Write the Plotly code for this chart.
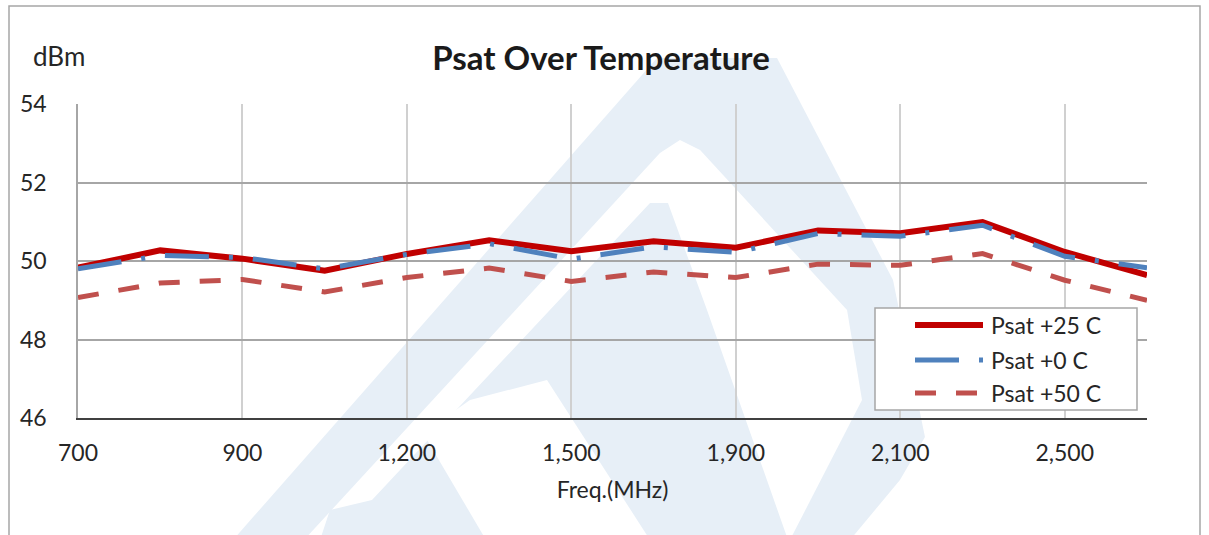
import plotly.graph_objects as go

# ---- data ----
freq_labels = ["700", "800", "900", "1,000", "1,200", "1,300", "1,500",
               "1,700", "1,900", "2,000", "2,100", "2,300", "2,500", "2,700"]
shown_ticks = ["700", "900", "1,200", "1,500", "1,900", "2,100", "2,500"]
psat_25 = [49.83, 50.27, 50.06, 49.75, 50.18, 50.53, 50.25, 50.50, 50.34, 50.78, 50.71, 50.99, 50.23, 49.64]
psat_0 = [49.80, 50.14, 50.09, 49.80, 50.17, 50.44, 50.05, 50.36, 50.22, 50.70, 50.63, 50.91, 50.12, 49.83]
psat_50 = [49.07, 49.44, 49.53, 49.21, 49.58, 49.82, 49.48, 49.72, 49.58, 49.92, 49.89, 50.19, 49.51, 49.00]
y_ticks = [46, 48, 50, 52, 54]
series_names = ["Psat +25 C", "Psat +0 C", "Psat +50 C"]

FONT = "Lato, 'Open Sans', sans-serif"
W, H = 1209, 535
L, R, T, B = 78, 62, 104, 117
PW, PH = W - L - R, H - T - B

COL_25, COL_0, COL_50 = "#C00000", "#4F81BD", "#C0504D"
DASH_0, DASH_50 = "44px,20px,4px,20px", "21px,20px"


def px(x, y):
    """pixel position -> paper coordinates (for decoration only)"""
    return (x - L) / PW, (H - B - y) / PH


def poly(points):
    pts = [px(x, y) for x, y in points]
    return "M" + " L".join(f"{a:.4f},{b:.4f}" for a, b in pts) + " Z"


fig = go.Figure()
fig.add_trace(go.Scatter(x=freq_labels, y=psat_25, mode="lines", name=series_names[0],
                         line=dict(color=COL_25, width=6)))
fig.add_trace(go.Scatter(x=freq_labels, y=psat_0, mode="lines", name=series_names[1],
                         line=dict(color=COL_0, width=5, dash=DASH_0)))
fig.add_trace(go.Scatter(x=freq_labels, y=psat_50, mode="lines", name=series_names[2],
                         line=dict(color=COL_50, width=5, dash=DASH_50)))

WM = "#E7EFF7"
wm_polys = [
    ([(233, 540), (657, 58), (777, 58), (893, 280), (925, 437), (900, 480), (850, 540)], WM),
    ([(304, 540), (660, 153), (680, 140), (700, 150), (847, 310), (862, 400), (790, 540)], "white"),
    ([(320, 540), (330, 510), (372, 500), (650, 203), (668, 203), (707, 310), (788, 540)], WM),
    ([(423, 433), (470, 400), (547, 380), (650, 540), (486, 540)], "white"),
]
shapes = [dict(type="path", path=poly(p), xref="paper", yref="paper", fillcolor=c,
               line=dict(width=0), layer="below") for p, c in wm_polys]
# chart border
shapes.append(dict(type="rect", xref="paper", yref="paper",
                   x0=px(9, 0)[0], x1=px(1200, 0)[0], y0=px(0, 560)[1], y1=px(0, 6)[1],
                   line=dict(color="#A6A6A6", width=1.5), fillcolor="rgba(0,0,0,0)", layer="above"))

# ---- legend box (drawn to match the long Excel-style legend keys) ----
leg_rows = [325, 360, 393]
shapes.append(dict(type="rect", xref="paper", yref="paper",
                   x0=px(875, 0)[0], x1=px(1137, 0)[0], y0=px(0, 410)[1], y1=px(0, 308)[1],
                   line=dict(color="#A6A6A6", width=1.5), fillcolor="white", layer="above"))
leg_styles = [(COL_25, 6, "solid", 983), (COL_0, 5, DASH_0, 983), (COL_50, 5, DASH_50, 978)]
annotations = []
for (col, wd, ds, xend), yy, nm in zip(leg_styles, leg_rows, series_names):
    shapes.append(dict(type="line", xref="paper", yref="paper",
                       x0=px(915, 0)[0], x1=px(xend, 0)[0], y0=px(0, yy)[1], y1=px(0, yy)[1],
                       line=dict(color=col, width=wd, dash=ds), layer="above"))
    annotations.append(dict(text=nm, xref="paper", yref="paper", x=px(989, 0)[0], y=px(0, yy)[1],
                            xanchor="left", yanchor="middle", showarrow=False,
                            font=dict(size=23, color="#262626")))

annotations.append(dict(text="dBm", xref="paper", yref="paper", x=px(31, 0)[0], y=px(0, 56)[1],
                        xanchor="left", yanchor="middle", showarrow=False, font=dict(size=26)))

fig.update_layout(
    width=W, height=H,
    margin=dict(l=L, r=R, t=T, b=B),
    paper_bgcolor="white", plot_bgcolor="rgba(0,0,0,0)",
    font=dict(family=FONT, color="#262626", size=23),
    title=dict(text="<b>Psat Over Temperature</b>", x=px(601, 0)[0], xref="paper", xanchor="center",
               y=1 - 58 / H, yanchor="middle", font=dict(size=33, color="#1a1a1a")),
    showlegend=False,
    shapes=shapes,
    annotations=annotations,
)

fig.update_xaxes(
    type="category", categoryorder="array", categoryarray=freq_labels,
    range=[0, len(freq_labels) - 1],
    tickmode="array", tickvals=shown_ticks, ticktext=shown_ticks,
    showgrid=True, gridcolor="#D0D0D0", gridwidth=1.5,
    showline=True, linecolor="#404040", linewidth=2,
    ticks="", ticklabelstandoff=13, tickfont=dict(size=23),
    title=dict(text="Freq.(MHz)", font=dict(size=23), standoff=17),
)
fig.update_yaxes(
    range=[46, 54], tickvals=y_ticks, showgrid=True, gridcolor="#A6A6A6", gridwidth=1.5,
    showline=True, linecolor="#A6A6A6", linewidth=1.5, zeroline=False,
    ticks="", ticklabelstandoff=25, tickfont=dict(size=23),
)

fig.write_html("out.html", config={"displayModeBar": False},
               post_script="document.body.style.margin='0';")
